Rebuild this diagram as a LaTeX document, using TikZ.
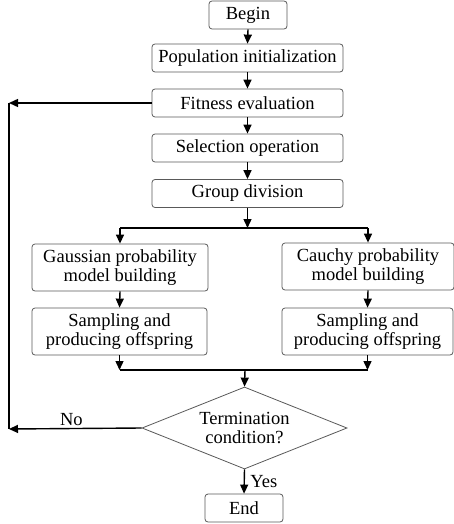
\documentclass[tikz,border=0pt]{standalone}
\usepackage{fontspec}
\setmainfont{Liberation Serif}
\usetikzlibrary{arrows.meta,shapes.geometric}
\begin{document}
\begin{tikzpicture}[x=1pt,y=-1pt,
  font=\fontsize{18.5}{19}\selectfont,
  box/.style={draw=black!65, line width=0.8pt, rounded corners=3pt,
    align=center, inner sep=0pt, minimum height=28pt},
  tallbox/.style={box, minimum height=47pt},
  decision/.style={draw=black!65, line width=0.8pt, diamond, aspect=2.5,
    align=center, inner sep=0pt, minimum width=205pt, minimum height=82pt},
  arr/.style={draw=black, line width=1.4pt, -{Triangle[length=9pt,width=8pt]}},
  ln/.style={draw=black, line width=1.4pt}]
\useasboundingbox (0,0) rectangle (454,524);

% main column
\node[box, minimum width=78pt]  (begin) at (248,15)    {Begin};
\node[box, minimum width=191pt] (init)  at (247.5,58)  {Population initialization};
\node[box, minimum width=191pt] (fit)   at (247.5,103) {Fitness evaluation};
\node[box, minimum width=191pt] (sel)   at (247.5,148) {Selection operation};
\node[box, minimum width=191pt] (grp)   at (247.5,193.5) {Group division};

% two branches
\node[tallbox, minimum width=176pt] (gau) at (120,267.5) {Gaussian probability\\model building};
\node[tallbox, minimum width=172pt] (cau) at (368,266.5) {Cauchy probability\\model building};
\node[tallbox, minimum width=175pt] (sl)  at (119.5,331.5) {Sampling and\\producing offspring};
\node[tallbox, minimum width=171pt] (sr)  at (367.5,331.5) {Sampling and\\producing offspring};

% decision and end
\node[decision] (dec) at (244.5,428) {Termination\\condition?};
\node[box, minimum width=78pt] (end) at (244,508) {End};

% junction points
\coordinate (split) at (247.5,228);
\coordinate (merge) at (245,370);
\coordinate (loopTop) at (9,103);
\coordinate (loopBot) at (9,429);

% straight flow
\draw[arr] (begin.south) -- (init.north);
\draw[arr] (init.south) -- (fit.north);
\draw[arr] (fit.south) -- (sel.north);
\draw[arr] (sel.south) -- (grp.north);
\draw[arr] (grp.south) -- (split);

% fork
\draw[ln] (gau.north |- split) -- (cau.north |- split);
\draw[arr] (gau.north |- split) -- (gau.north);
\draw[arr] (cau.north |- split) -- (cau.north);
\draw[arr] (gau.south) -- (sl.north);
\draw[arr] (cau.south) -- (sr.north);

% join
\draw[arr] (sl.south) -- (sl.south |- merge);
\draw[arr] (sr.south) -- (sr.south |- merge);
\draw[ln] (sl.south |- merge) -- (sr.south |- merge);
\draw[arr] (merge) -- (dec.north);

% loop back
\draw[arr] (fit.west) -- (loopTop);
\draw[ln] (loopTop) -- (loopBot);
\draw[arr] (dec.west) -- node[pos=0.53, above=-1pt] {No} (loopBot);

% exit
\draw[arr] (dec.south) -- node[right=2pt] {Yes} (end.north);
\end{tikzpicture}
\end{document}
